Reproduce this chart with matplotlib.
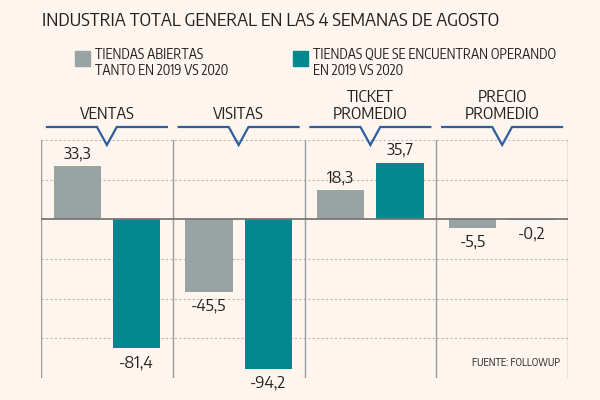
import matplotlib
matplotlib.use("Agg")
import matplotlib.pyplot as plt
import numpy as np

# Data
categories = ["VENTAS", "VISITAS", "TICKET\nPROMEDIO", "PRECIO\nPROMEDIO"]
abiertas = [33.3, -45.5, 18.3, -5.5]
operando = [-81.4, -94.2, 35.7, -0.2]
legend_labels = ["TIENDAS ABIERTAS\nTANTO EN 2019 VS 2020",
                 "TIENDAS QUE SE ENCUENTRAN OPERANDO\nEN 2019 VS 2020"]
y_ticks = [50, 25, -25, -50, -75, -100]

BG = "#fdf5ee"
GRAY = "#9aa3a4"
TEAL = "#00878f"
BLUE = "#2f5d9e"
TXT = "#222222"

plt.rcParams["font.family"] = ["Encode Sans Condensed", "DejaVu Sans"]
NUM_FONT = ["Encode Sans Semi Condensed", "DejaVu Sans"]

fig = plt.figure(figsize=(6, 4), dpi=100, facecolor=BG)
ax = fig.add_axes([41 / 600, 22 / 400, 527 / 600, 238 / 400])
ax.set_facecolor(BG)

x = np.arange(len(categories))
w = 0.36
off = 0.225
ax.bar(x - off, abiertas, w, color=GRAY, zorder=3)
ax.bar(x + off, operando, w, color=TEAL, zorder=3)

ax.set_xlim(-0.5, len(categories) - 0.5)
ax.set_ylim(-100, 50)

# grid and separators
for t in y_ticks:
    ax.axhline(t, color="#bdb8b2", lw=0.8, ls=(0, (2, 2)), zorder=1)
ax.axhline(0, color="#777777", lw=1.3, zorder=4)
for b in np.arange(-0.5, len(categories), 1.0):
    ax.axvline(b, color="#9a9a9a", lw=1.0, zorder=2)

for s in ax.spines.values():
    s.set_visible(False)
ax.set_xticks([])
ax.set_yticks([])


def fmt(v):
    return f"{v:.1f}".replace(".", ",")


for xs, vals in ((x - off, abiertas), (x + off, operando)):
    for xi, v in zip(xs, vals):
        if v >= 0:
            ax.annotate(fmt(v), (xi, v), xytext=(0, 3), textcoords="offset points",
                        ha="center", va="bottom", fontsize=12, color=TXT, family=NUM_FONT)
        else:
            ax.annotate(fmt(v), (xi, v), xytext=(0, -4), textcoords="offset points",
                        ha="center", va="top", fontsize=12, color=TXT, family=NUM_FONT)

# category headers with notched blue line
tr = ax.get_xaxis_transform()
y_line = 1 + 13 / 238
y_tip = 1 - 5 / 238
for i, cat in enumerate(categories):
    xs = [i - 0.455, i - 0.075, i, i + 0.075, i + 0.455]
    ys = [y_line, y_line, y_tip, y_line, y_line]
    ax.plot(xs, ys, color=BLUE, lw=1.6, transform=tr, clip_on=False, zorder=5,
            solid_joinstyle="miter")
    ax.text(i, y_line + 4 / 238, cat, transform=tr, ha="center", va="bottom",
            fontsize=12, color=TXT, linespacing=1.0)

# title
fig.text(42 / 600, 1 - 21 / 400, "INDUSTRIA TOTAL GENERAL EN LAS 4 SEMANAS DE AGOSTO",
         fontsize=13.5, color=TXT, va="center", ha="left")

# legend
for (sx, tx), color, lab in zip(((75, 95), (293, 313)), (GRAY, TEAL), legend_labels):
    fig.patches.append(plt.Rectangle((sx / 600, 1 - 66 / 400), 15 / 600, 15 / 400,
                                     transform=fig.transFigure, color=color))
    fig.text(tx / 600, 1 - 63 / 400, lab, fontsize=10, color=TXT,
             va="center", ha="left", linespacing=1.2)

ax.text(0.985, 0.065, "FUENTE: FOLLOWUP", transform=ax.transAxes, ha="right",
        va="center", fontsize=7.5, color=TXT)

fig.savefig("out.png", dpi=100, facecolor=BG)
